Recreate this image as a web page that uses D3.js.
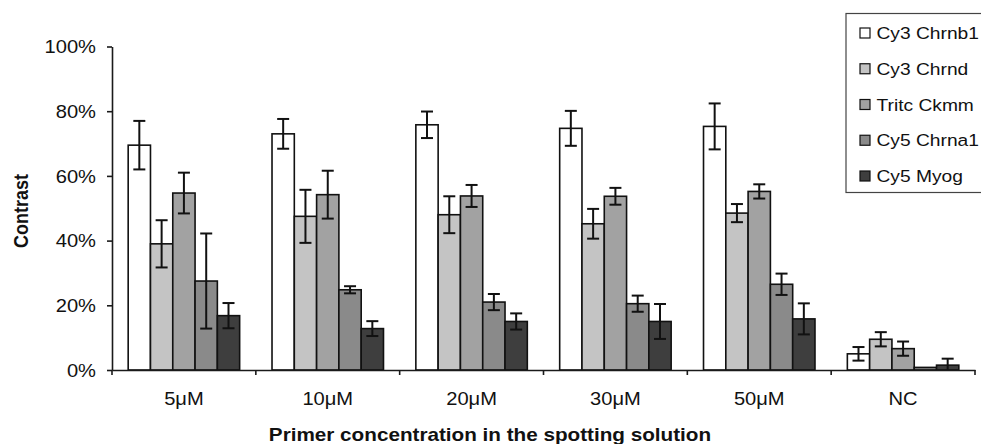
<!DOCTYPE html>
<html>
<head>
<meta charset="utf-8">
<script src="https://cdn.jsdelivr.net/npm/d3@7"></script>
<style>
  html, body { margin: 0; padding: 0; background: #fff; }
  svg { display: block; font-family: Arial, "Liberation Sans", sans-serif; }
</style>
</head>
<body>
<svg id="chart" width="981" height="444"></svg>
<script>
// ---------- data ----------
const categories = ["5μM", "10μM", "20μM", "30μM", "50μM", "NC"];
const seriesNames = ["Cy3 Chrnb1", "Cy3 Chrnd", "Tritc Ckmm", "Cy5 Chrna1", "Cy5 Myog"];
const chrnb1 = [69.5, 73.0, 75.8, 74.7, 75.3, 5.0];
const chrnd  = [39.0, 47.5, 48.0, 45.2, 48.5, 9.5];
const ckmm   = [54.7, 54.2, 53.8, 53.7, 55.2, 6.6];
const chrna1 = [27.5, 24.8, 21.0, 20.5, 26.5, 0.8];
const myog   = [16.8, 12.8, 15.0, 15.0, 15.8, 1.5];
const chrnb1Err = [7.5, 4.6, 4.1, 5.4, 7.1, 2.1];
const chrndErr  = [7.3, 8.2, 5.7, 4.6, 2.8, 2.2];
const ckmmErr   = [6.3, 7.4, 3.4, 2.6, 2.2, 2.2];
const chrna1Err = [14.7, 1.1, 2.5, 2.5, 3.3, 0];
const myogErr   = [3.9, 2.3, 2.5, 5.4, 4.8, 2.0];
const yTicks = [0, 20, 40, 60, 80, 100];
const yTitle = "Contrast";
const xTitle = "Primer concentration in the spotting solution";

const values = [chrnb1, chrnd, ckmm, chrna1, myog];
const errors = [chrnb1Err, chrndErr, ckmmErr, chrna1Err, myogErr];
const colors = ["#ffffff", "#c4c4c4", "#a2a2a2", "#8a8a8a", "#3e3e3e"];

// ---------- layout ----------
const SX = 1.15; // horizontal stretch of the original raster text
const plotLeft = 112, plotRight = 975, plotTop = 46.5, plotBottom = 370;
const svg = d3.select("#chart");

const x0 = d3.scaleBand().domain(categories).range([plotLeft, plotRight])
  .paddingInner(0.225).paddingOuter(0.1125);
const x1 = d3.scaleBand().domain(seriesNames).range([0, x0.bandwidth()]);
const y = d3.scaleLinear().domain([0, 100]).range([plotBottom, plotTop]);

function stretchText(sel, anchorX, anchorY) {
  sel.attr("transform", `translate(${anchorX},${anchorY}) scale(${SX},1)`)
     .attr("x", 0).attr("y", 0);
}

// ---------- bars ----------
const groups = svg.append("g").selectAll("g")
  .data(categories).join("g")
  .attr("transform", d => `translate(${x0(d)},0)`);

groups.each(function(cat, ci) {
  const g = d3.select(this);
  seriesNames.forEach((s, si) => {
    const v = values[si][ci];
    g.append("rect")
      .attr("x", x1(s))
      .attr("y", y(v))
      .attr("width", x1.bandwidth())
      .attr("height", y(0) - y(v))
      .attr("fill", colors[si])
      .attr("stroke", "#111")
      .attr("stroke-width", 1.6);
  });
});

// ---------- error bars ----------
groups.each(function(cat, ci) {
  const g = d3.select(this);
  seriesNames.forEach((s, si) => {
    const v = values[si][ci], e = errors[si][ci];
    if (!e) return;
    const cx = x1(s) + x1.bandwidth() / 2;
    const hi = y(v + e), lo = y(Math.max(0, v - e));
    const cap = 6;
    g.append("line").attr("x1", cx).attr("x2", cx).attr("y1", hi).attr("y2", lo)
      .attr("stroke", "#111").attr("stroke-width", 2);
    g.append("line").attr("x1", cx - cap).attr("x2", cx + cap).attr("y1", hi).attr("y2", hi)
      .attr("stroke", "#111").attr("stroke-width", 2);
    if (v - e > 0)
      g.append("line").attr("x1", cx - cap).attr("x2", cx + cap).attr("y1", lo).attr("y2", lo)
        .attr("stroke", "#111").attr("stroke-width", 2);
  });
});

// ---------- y axis ----------
const yAxis = svg.append("g")
  .attr("transform", `translate(${plotLeft},0)`)
  .call(d3.axisLeft(y).tickValues(yTicks).tickFormat(d => d + "%").tickSize(5).tickSizeOuter(0));
yAxis.select(".domain").attr("stroke", "#1a1a1a").attr("stroke-width", 1.6);
yAxis.selectAll(".tick line").attr("stroke", "#1a1a1a").attr("stroke-width", 1.6);
yAxis.selectAll(".tick text")
  .attr("font-size", 17.5).attr("fill", "#111")
  .attr("text-anchor", "end").attr("dy", "0.35em")
  .each(function() { stretchText(d3.select(this), -16, 0); });

// ---------- x axis ----------
const xAxis = svg.append("g")
  .attr("transform", `translate(0,${plotBottom})`)
  .call(d3.axisBottom(x0).tickSize(0).tickSizeOuter(0));
xAxis.select(".domain").attr("stroke", "#1a1a1a").attr("stroke-width", 1.6);
xAxis.selectAll(".tick text")
  .attr("font-size", 17.5).attr("fill", "#111")
  .attr("text-anchor", "middle").attr("dy", null)
  .each(function() { stretchText(d3.select(this), 0, 34.5); });
// category separator ticks
const bounds = d3.range(categories.length + 1).map(i => plotLeft + i * x0.step());
xAxis.selectAll(".sep").data(bounds).join("line").attr("class", "sep")
  .attr("x1", d => d).attr("x2", d => d).attr("y1", 0).attr("y2", 5)
  .attr("stroke", "#1a1a1a").attr("stroke-width", 1.6);

// ---------- titles ----------
svg.append("text").text(xTitle)
  .attr("font-size", 18).attr("font-weight", "bold").attr("fill", "#111")
  .attr("text-anchor", "middle")
  .attr("transform", `translate(490,441) scale(${SX},1)`);

svg.append("text").text(yTitle)
  .attr("font-size", 18).attr("font-weight", "bold").attr("fill", "#111")
  .attr("text-anchor", "middle")
  .attr("transform", `translate(27.5,211) scale(${SX},1) rotate(-90)`);

// ---------- legend ----------
const legend = svg.append("g");
legend.append("rect")
  .attr("x", 846).attr("y", 13.5).attr("width", 150).attr("height", 179)
  .attr("fill", "#fff").attr("stroke", "#444").attr("stroke-width", 1.2);
const rowY = d3.scalePoint().domain(seriesNames).range([32.5, 175.5]);
seriesNames.forEach((s, i) => {
  const cy = rowY(s);
  legend.append("rect")
    .attr("x", 860).attr("y", cy - 4.5).attr("width", 10).attr("height", 10)
    .attr("fill", colors[i]).attr("stroke", "#111").attr("stroke-width", 1.2);
  legend.append("text").text(s)
    .attr("font-size", 16.7).attr("fill", "#111")
    .attr("transform", `translate(876.5,${cy + 6.5}) scale(${SX},1)`);
});
</script>
</body>
</html>
